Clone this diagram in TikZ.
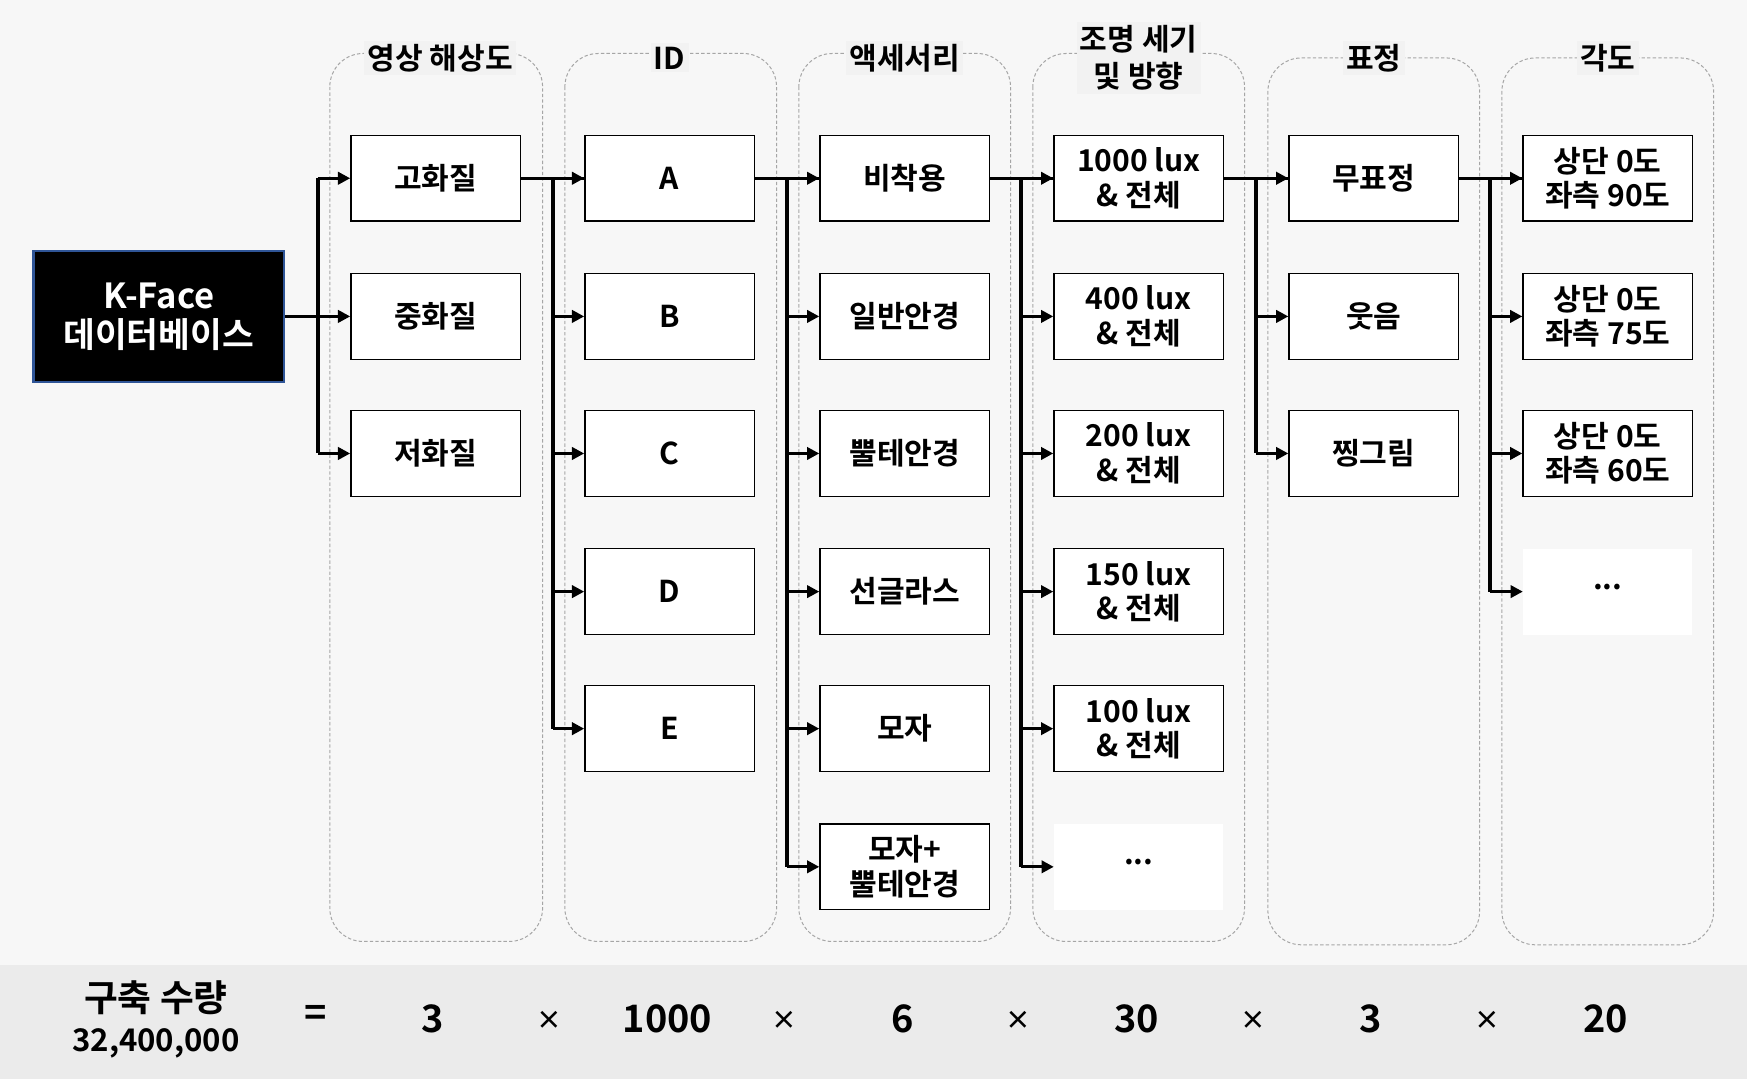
\documentclass[tikz,border=0pt]{standalone}
\usepackage{fontspec}
\setmainfont{Noto Sans CJK KR}[BoldFont={Noto Sans CJK KR Bold}]
\usetikzlibrary{arrows.meta}

\definecolor{bgcol}{HTML}{F7F7F7}
\definecolor{bandcol}{HTML}{EBEBEB}
\definecolor{headcol}{HTML}{F2F2F2}
\definecolor{dashcol}{HTML}{A6A6A6}
\definecolor{kborder}{HTML}{2F5597}

\begin{document}
\begin{tikzpicture}
  [x=1pt,y=-1pt,
   every node/.style={font=\bfseries\fontsize{27}{31}\selectfont,align=center},
   item/.style={draw=black,line width=1.3pt,fill=white,minimum width=152pt,minimum height=77pt,inner sep=0pt},
   more/.style={fill=white,minimum width=152pt,minimum height=77pt,inner sep=0pt},
   group/.style={draw=dashcol,line width=0.9pt,dash pattern=on 3pt off 2pt,rounded corners=30pt},
   head/.style={fill=headcol,inner sep=3pt,font=\bfseries\fontsize{27}{33}\selectfont},
   link/.style={line width=3pt,-{Triangle[length=11pt,width=11pt]}},
   trunk/.style={line width=3.6pt},
   big/.style={font=\bfseries\fontsize{34}{40}\selectfont}]

  \fill[bgcol] (0,0) rectangle (1568,968);
  \fill[bandcol] (0,866) rectangle (1568,968);

  % column frames
  \draw[group] (296,48) rectangle (487,845);
  \draw[group] (507,48) rectangle (697,845);
  \draw[group] (717,48) rectangle (907,845);
  \draw[group] (927,48) rectangle (1117,845);
  \draw[group] (1138,52) rectangle (1328,848);
  \draw[group] (1348,52) rectangle (1538,848);

  \node[head] (h1) at (395,52) {영상 해상도};
  \node[head] (h2) at (601,52) {ID};
  \node[head] (h3) at (812,52) {액세서리};
  \node[head] (h4) at (1022,52) {조명 세기\\및 방향};
  \node[head] (h5) at (1233,52) {표정};
  \node[head] (h6) at (1443,52) {각도};

  \node[fill=black,draw=kborder,line width=2pt,text=white,minimum width=225pt,minimum height=118pt,
        font=\bfseries\fontsize{31}{35}\selectfont] (k) at (142.5,284) {K-Face\\데이터베이스};

  \node[item] (r1) at (391,160) {고화질};
  \node[item] (r2) at (391,284) {중화질};
  \node[item] (r3) at (391,407) {저화질};

  \node[item] (i1) at (601,160) {A};
  \node[item] (i2) at (601,284) {B};
  \node[item] (i3) at (601,407) {C};
  \node[item] (i4) at (601,531) {D};
  \node[item] (i5) at (601,654) {E};

  \node[item] (a1) at (812,160) {비착용};
  \node[item] (a2) at (812,284) {일반안경};
  \node[item] (a3) at (812,407) {뿔테안경};
  \node[item] (a4) at (812,531) {선글라스};
  \node[item] (a5) at (812,654) {모자};
  \node[item] (a6) at (812,778) {모자+\\뿔테안경};

  \node[item] (l1) at (1022,160) {1000 lux\\\& 전체};
  \node[item] (l2) at (1022,284) {400 lux\\\& 전체};
  \node[item] (l3) at (1022,407) {200 lux\\\& 전체};
  \node[item] (l4) at (1022,531) {150 lux\\\& 전체};
  \node[item] (l5) at (1022,654) {100 lux\\\& 전체};
  \node[more] (l6) at (1022,778) {\raisebox{2pt}[0pt][0pt]{...}};

  \node[item] (e1) at (1233,160) {무표정};
  \node[item] (e2) at (1233,284) {웃음};
  \node[item] (e3) at (1233,407) {찡그림};

  \node[item] (g1) at (1443,160) {상단 0도\\좌측 90도};
  \node[item] (g2) at (1443,284) {상단 0도\\좌측 75도};
  \node[item] (g3) at (1443,407) {상단 0도\\좌측 60도};
  \node[more] (g4) at (1443,531) {\raisebox{2pt}[0pt][0pt]{...}};

  % branching points
  \coordinate (c1) at (285,160);
  \coordinate (c2) at (496,160);
  \coordinate (c3) at (706,160);
  \coordinate (c4) at (916,160);
  \coordinate (c5) at (1127,160);
  \coordinate (c6) at (1337,160);

  \draw[line width=3pt] (k.east) -- (c1 |- k.east);
  \foreach \from/\to in {r1/i,i1/a,a1/l,l1/e,e1/g}
    \draw[line width=3pt] (\from.east) -- (\to1.west);
  \foreach \c/\to/\n in {c1/r/3,c2/i/5,c3/a/6,c4/l/6,c5/e/3,c6/g/4}
  {
    \draw[trunk] (\c) -- (\c |- \to\n.west);
    \foreach \k in {1,...,\n}
      \draw[link] (\c |- \to\k.west) -- (\to\k.west);
  }

  % totals
  \node[font=\bfseries\fontsize{28}{36}\selectfont] (total) at (140,915)
    {{\fontsize{33}{36}\selectfont 구축 수량}\\32,400,000};
  \node[big] (eq) at (283,912) {=};
  \node[big] (n1) at (388,914) {3};
  \node[big] (n2) at (599,914) {1000};
  \node[big] (n3) at (810,914) {6};
  \node[big] (n4) at (1020,914) {30};
  \node[big] (n5) at (1230,914) {3};
  \node[big] (n6) at (1441,914) {20};
  \foreach \x in {493,704,914,1125,1335}
    \node[font=\bfseries\fontsize{23}{30}\selectfont] at (\x,916) {×};
\end{tikzpicture}
\end{document}
